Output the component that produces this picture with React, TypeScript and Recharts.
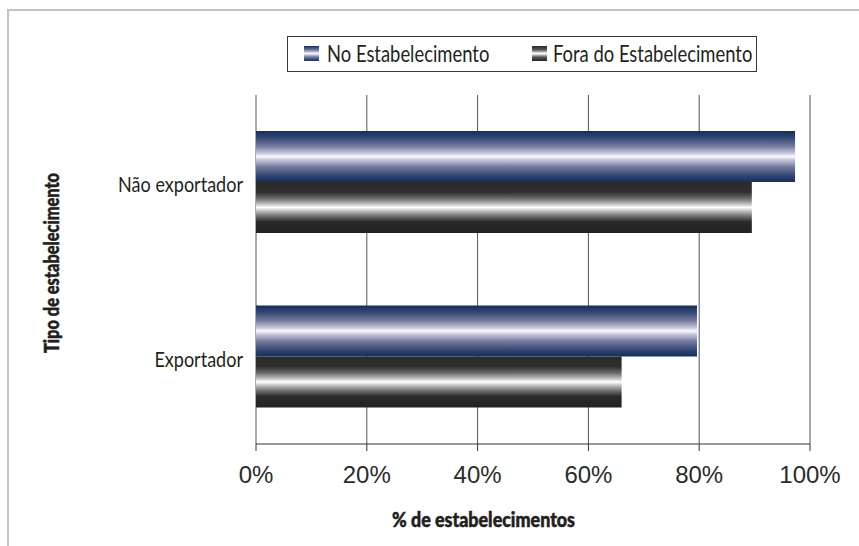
import { BarChart, Bar, XAxis, YAxis, CartesianGrid, Legend, ReferenceLine, Label } from 'recharts';

const categories = ['Não exportador', 'Exportador'];
const noEstabelecimento = [97.3, 79.6];
const foraEstabelecimento = [89.5, 66.0];
const xTicks = [0, 20, 40, 60, 80, 100];

const seriesNames = ['No Estabelecimento', 'Fora do Estabelecimento'];

const data = categories.map((c, i) => ({
    tipo: c,
    no: noEstabelecimento[i],
    fora: foraEstabelecimento[i]
}));

// no condensed font installed, so squeeze Lato horizontally
const narrow = "Lato, 'Open Sans', sans-serif";
const SX = 0.82;

const blueCss = 'linear-gradient(#132f5c, #6f7398 25%, #fafafe 50%, #6f7398 75%, #132f5c)';
const blackCss = 'linear-gradient(#2b2b2b, #555 25%, #fff 50%, #555 75%, #222)';

function LegendBox() {
    const txt: React.CSSProperties = {
        position: 'absolute', top: 2, whiteSpace: 'nowrap', transform: 'scaleX(0.8)', transformOrigin: 'left center'
    };
    return (
        <div style={{
            position: 'relative', width: 470, height: 36, border: '1.5px solid #3a3a3a', boxSizing: 'border-box',
            fontFamily: narrow, fontSize: 23, color: '#231f20', background: '#fff'
        }}>
            <span style={{ position: 'absolute', left: 16, top: 9, width: 15, height: 15, background: blueCss }} />
            <span style={{ ...txt, left: 39 }}>{seriesNames[0]}</span>
            <span style={{ position: 'absolute', left: 244, top: 9, width: 15, height: 15, background: blackCss }} />
            <span style={{ ...txt, left: 265 }}>{seriesNames[1]}</span>
        </div>
    );
}

function CatTick({ x, y, payload }: any) {
    return (
        <g transform={`translate(${x},${y})`}>
            <text textAnchor="end" dy={10} transform={`scale(${SX},1)`} fontFamily={narrow} fontSize={22} fill="#231f20">
                {payload.value}
            </text>
        </g>
    );
}

export default function App() {
    return (
        <div style={{ position: 'relative', width: 859, height: 546, background: '#fff' }}>
            <style>{`body{margin:0}`}</style>
            {/* cropped frame */}
            <div style={{ position: 'absolute', left: 7, top: 9, right: 0, bottom: 0, borderTop: '2px solid #c3c3c3', borderLeft: '2px solid #c3c3c3' }} />
            <BarChart
                width={859}
                height={546}
                data={data}
                layout="vertical"
                barGap={0}
                barSize={51}
                margin={{ top: 95, right: 49, bottom: 42, left: 106 }}
            >
                <defs>
                    <linearGradient id="gBlue" x1="0" y1="0" x2="0" y2="1">
                        <stop offset="0" stopColor="#132f5c" />
                        <stop offset="0.12" stopColor="#2f4470" />
                        <stop offset="0.3" stopColor="#777a9e" />
                        <stop offset="0.44" stopColor="#c9cadd" />
                        <stop offset="0.5" stopColor="#fbfbff" />
                        <stop offset="0.56" stopColor="#c9cadd" />
                        <stop offset="0.7" stopColor="#777a9e" />
                        <stop offset="0.88" stopColor="#2f4470" />
                        <stop offset="1" stopColor="#132f5c" />
                    </linearGradient>
                    <linearGradient id="gBlack" x1="0" y1="0" x2="0" y2="1">
                        <stop offset="0" stopColor="#2a2a2a" />
                        <stop offset="0.2" stopColor="#2f2f2f" />
                        <stop offset="0.32" stopColor="#6a6a6a" />
                        <stop offset="0.42" stopColor="#b5b5b5" />
                        <stop offset="0.5" stopColor="#ffffff" />
                        <stop offset="0.58" stopColor="#b5b5b5" />
                        <stop offset="0.68" stopColor="#6a6a6a" />
                        <stop offset="0.78" stopColor="#2a2a2a" />
                        <stop offset="1" stopColor="#222222" />
                    </linearGradient>
                </defs>
                <CartesianGrid horizontal={false} stroke="#555" />
                <XAxis
                    type="number"
                    domain={[0, 100]}
                    ticks={xTicks}
                    tickFormatter={(v) => `${v}%`}
                    tick={{ fontFamily: "'Liberation Sans', Arial, sans-serif", fontSize: 24, fill: '#2b2b2b' }}
                    tickSize={7}
                    tickMargin={15}
                    axisLine={{ stroke: '#333' }}
                    tickLine={{ stroke: '#333' }}
                    height={60}
                >
                    <Label
                        content={() => (
                            <text x={392} y={527} textLength={183} lengthAdjust="spacingAndGlyphs" fontFamily={narrow} fontWeight={900} fontSize={20} fill="#231f20" stroke="#231f20" strokeWidth={0.5}>
                                % de estabelecimentos
                            </text>
                        )}
                    />
                </XAxis>
                <YAxis yAxisId="lines" type="number" domain={[0, 2]} ticks={[0, 1, 2]} tickFormatter={() => ''} width={0} tickSize={7} axisLine={{ stroke: '#333' }} tickLine={{ stroke: '#333' }} />
                <YAxis
                    yAxisId="cat"
                    type="category"
                    dataKey="tipo"
                    width={150}
                    axisLine={false}
                    tickLine={false}
                    tickSize={7}
                    tickMargin={6}
                    tick={<CatTick />}
                >
                    <Label
                        content={() => (
                            <text x={0} y={0} transform="translate(59,353) rotate(-90)" textLength={180} lengthAdjust="spacingAndGlyphs" fontFamily={narrow} fontWeight={900} fontSize={20} fill="#231f20" stroke="#231f20" strokeWidth={0.5}>
                                Tipo de estabelecimento
                            </text>
                        )}
                    />
                </YAxis>
                <ReferenceLine yAxisId="lines" y={2} stroke="#777" strokeWidth={1.5} />
                <Legend verticalAlign="middle" layout="horizontal" wrapperStyle={{ position: 'absolute', top: 36, left: 287, width: 'auto' }} content={() => <LegendBox />} />
                <Bar yAxisId="cat" dataKey="no" name={seriesNames[0]} fill="url(#gBlue)" isAnimationActive={false} />
                <Bar yAxisId="cat" dataKey="fora" name={seriesNames[1]} fill="url(#gBlack)" isAnimationActive={false} />
            </BarChart>
        </div>
    );
}
